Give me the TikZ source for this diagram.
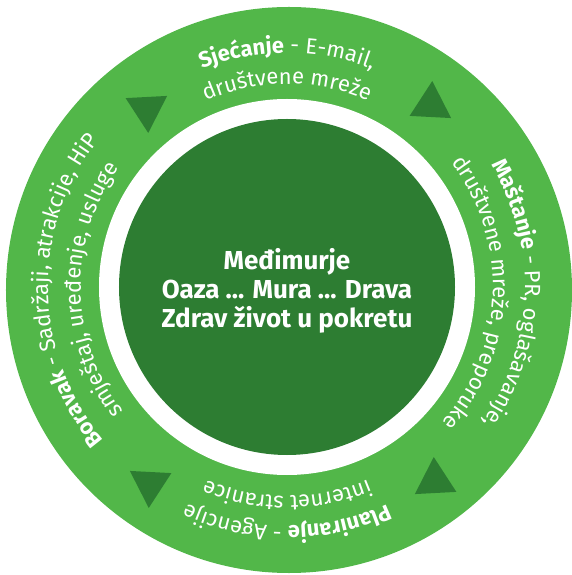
\documentclass[tikz,border=0pt]{standalone}
\usepackage{fontspec}
\setmainfont{Fira Sans}
\usetikzlibrary{decorations.text}
\definecolor{ringgreen}{RGB}{82,183,73}
\definecolor{coregreen}{RGB}{45,125,50}
\newcommand\ringfont{\fontsize{22}{26}\selectfont}
% text on a clockwise arc: centre angle, radius, text
\newcommand\ringlabel[3]{\path[decorate, decoration={text along path, text align=center, text color=white, text={#3}}] (#1+60:#2) arc[start angle=#1+60, end angle=#1-60, radius=#2];}

\begin{document}
\begin{tikzpicture}[x=1pt, y=1pt]
                % ring = light band, core = dark disc in the middle
                \tikzstyle{ring}=[fill=ringgreen]
                \tikzstyle{core}=[fill=coregreen]
                \tikzstyle{every node}=[text=white, align=center]
                \useasboundingbox (-287,-288) rectangle (285,287);
                \fill[ring] (2,-3) circle (283);
                \fill[white] (0,0) circle (188);
                \fill[core] (0,0) circle (168);
                \node[font=\bfseries\fontsize{26}{29}\selectfont] (title) at (0,-4) {Međimurje\\Oaza ... Mura ... Drava\\Zdrav život u pokretu};
                \foreach \cx/\cy/\rot in {-140/178/-87, 144/182/87, -137/-197/-93, 148/-194/93}
                        \fill[core, shift={(\cx,\cy)}, rotate=\rot] (0:24) -- (120:24) -- (240:24) -- cycle;
                \ringlabel{90}{234}{|\ringfont\bfseries|Sjećanje|\ringfont\mdseries| - E-mail,}
                \ringlabel{90}{203}{|\ringfont\mdseries|društvene mreže}
                \ringlabel{-2}{238}{|\ringfont\bfseries|Maštanje|\ringfont\mdseries| - PR, oglašavanje,}
                \ringlabel{-2}{206}{|\ringfont\mdseries|društvene mreže, preporuke}
                \ringlabel{-90}{239}{|\ringfont\bfseries|Planiranje|\ringfont\mdseries| - Agencije}
                \ringlabel{-90}{209}{|\ringfont\mdseries|internet stranice}
                \ringlabel{181}{239}{|\ringfont\bfseries|Boravak|\ringfont\mdseries| - Sadržaji, atrakcije, HiP}
                \ringlabel{181}{206}{|\ringfont\mdseries|smještaj, uređenje, usluge}
        \end{tikzpicture}
\end{document}
